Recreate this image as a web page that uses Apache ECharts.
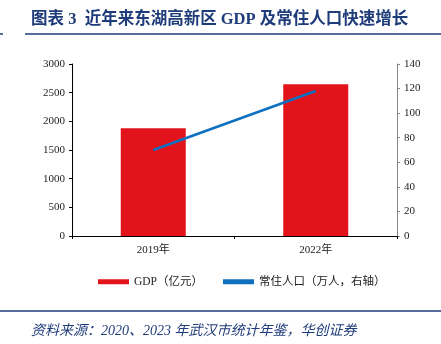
<!DOCTYPE html>
<html>
<head>
<meta charset="utf-8">
<script src="https://cdn.jsdelivr.net/npm/echarts@6/dist/echarts.min.js"></script>
<style>
  html, body { margin: 0; padding: 0; background: #fff; }
  #chart { width: 441px; height: 344px; }
</style>
</head>
<body>
<div id="chart"></div>
<script>
// Donghu High-tech Zone: GDP (100 million yuan) and resident population (10k people)
const categories = ['2019年', '2022年'];
const gdpValues = [1878, 2646];
const populationValues = [70, 118];
const leftTicks = [0, 500, 1000, 1500, 2000, 2500, 3000];
const rightTicks = [0, 20, 40, 60, 80, 100, 120, 140];

const navy = '#1F3C7A';
const serif = '"Liberation Serif", "Times New Roman", serif';
const cjk = '"Liberation Serif", "Noto Sans CJK SC", serif';

const chart = echarts.init(document.getElementById('chart'));
chart.setOption({
  animation: false,
  backgroundColor: '#fff',
  title: [
    {
      text: '图表 3  近年来东湖高新区 GDP 及常住人口快速增长',
      left: 26, top: 6,
      textStyle: { color: navy, fontSize: 16.5, fontWeight: 'bold', fontFamily: cjk }
    },
    {
      text: '资料来源：2020、2023 年武汉市统计年鉴，华创证券',
      left: 26, top: 319,
      textStyle: { color: navy, fontSize: 14, fontWeight: 'normal', fontStyle: 'italic', fontFamily: cjk }
    }
  ],
  graphic: [
    { type: 'line', shape: { x1: 25, y1: 34, x2: 441, y2: 34 }, style: { stroke: navy, lineWidth: 1.5 } },
    { type: 'line', shape: { x1: 0, y1: 34, x2: 3, y2: 34 }, style: { stroke: navy, lineWidth: 1.5 } },
    { type: 'line', shape: { x1: 0, y1: 311, x2: 441, y2: 311 }, style: { stroke: navy, lineWidth: 1.5 } }
  ],
  grid: { left: 72, right: 44, top: 64, bottom: 108, containLabel: false },
  legend: {
    top: 271, left: 93,
    itemGap: 20, itemWidth: 31, itemHeight: 5,
    textStyle: { fontFamily: cjk, fontSize: 11.5, color: '#222' },
    data: [
      { name: 'GDP（亿元）', icon: 'rect' },
      { name: '常住人口（万人，右轴）', icon: 'rect', itemStyle: { color: '#0F70C0' } }
    ]
  },
  xAxis: {
    type: 'category',
    data: categories,
    axisLine: { lineStyle: { color: '#000', width: 1 } },
    axisTick: { show: true, length: 3, lineStyle: { color: '#000' } },
    axisLabel: { color: '#222', fontFamily: cjk, fontSize: 11, margin: 9 }
  },
  yAxis: [
    {
      type: 'value', min: 0, max: 3000, interval: 500,
      axisLine: { show: true, lineStyle: { color: '#000' } },
      axisTick: { show: true, length: 3, lineStyle: { color: '#000' } },
      splitLine: { show: false },
      axisLabel: {
        color: '#222', fontFamily: serif, fontSize: 11, margin: 7,
        formatter: v => leftTicks.includes(v) ? String(v) : ''
      }
    },
    {
      type: 'value', min: 0, max: 140, interval: 20, position: 'right',
      axisLine: { show: true, lineStyle: { color: '#888' } },
      axisTick: { show: true, length: 3, lineStyle: { color: '#888' } },
      splitLine: { show: false },
      axisLabel: {
        color: '#222', fontFamily: serif, fontSize: 11, margin: 7,
        formatter: v => rightTicks.includes(v) ? String(v) : ''
      }
    }
  ],
  series: [
    {
      name: 'GDP（亿元）',
      type: 'bar',
      data: gdpValues,
      barWidth: '40%',
      itemStyle: { color: '#E3131C' }
    },
    {
      name: '常住人口（万人，右轴）',
      type: 'line',
      yAxisIndex: 1,
      data: populationValues,
      symbol: 'none',
      lineStyle: { color: '#0F70C0', width: 2.5 },
      itemStyle: { color: '#0F70C0' }
    }
  ]
});
</script>
</body>
</html>
